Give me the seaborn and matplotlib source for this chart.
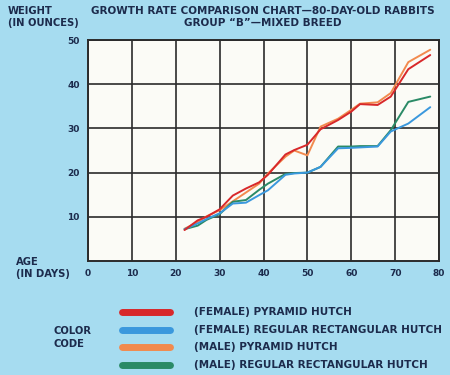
import pandas as pd
import matplotlib.pyplot as plt
import seaborn as sns
from matplotlib.lines import Line2D

# --- data ---
days = [22, 25, 27, 30, 33, 36, 39, 41, 45, 47, 50, 53, 57, 60, 62, 66, 69, 73, 78]
female_pyramid = [7.0, 9.2, 10.0, 11.7, 14.8, 16.4, 17.8, 19.5, 24.1, 25.1, 26.3, 29.8, 31.9, 33.8, 35.5, 35.3, 37.2, 43.4, 46.6]
female_rect = [7.2, 8.5, 9.5, 10.8, 13.0, 13.2, 14.9, 16.0, 19.5, 19.8, 20.0, 21.3, 25.5, 25.6, 25.7, 25.9, 29.3, 31.1, 34.8]
male_pyramid = [7.3, 8.8, 10.1, 11.5, 13.5, 15.5, 17.5, 19.8, 23.6, 25.0, 23.9, 30.4, 32.2, 34.2, 35.6, 35.9, 38.0, 45.0, 47.8]
male_rect = [7.2, 8.0, 9.3, 10.6, 13.4, 13.8, 16.1, 17.5, 19.7, 19.9, 20.0, 21.3, 25.9, 25.9, 26.0, 26.0, 29.6, 36.0, 37.2]

series_names = ["(FEMALE) PYRAMID HUTCH", "(FEMALE) REGULAR RECTANGULAR HUTCH",
                "(MALE) PYRAMID HUTCH", "(MALE) REGULAR RECTANGULAR HUTCH"]
series_values = [female_pyramid, female_rect, male_pyramid, male_rect]
colors = ["#d8282a", "#3a98dd", "#f28a4e", "#2a8a66"]

x_ticks = [0, 10, 20, 30, 40, 50, 60, 70, 80]
y_ticks = [10, 20, 30, 40, 50]

# --- style ---
bg = "#a6dcf0"
ink = "#1c2b4c"
sns.set_style("white")
plt.rcParams['font.family'] = ['DejaVu Sans']
plt.rcParams['font.weight'] = 'bold'

rows = []
for name, vals in zip(series_names, series_values):
    for d, v in zip(days, vals):
        rows.append({"day": d, "weight": v, "series": name})
df = pd.DataFrame(rows)

fig = plt.figure(figsize=(4.5, 3.75), dpi=100, facecolor=bg)
ax = fig.add_axes([0.1956, 0.304, 0.78, 0.5893])
ax.set_facecolor("#fbfbf6")

# male lines first so the female lines sit on top like in the original
order = [2, 3, 1, 0]
for i in order:
    sub = df[df["series"] == series_names[i]]
    sns.lineplot(data=sub, x="day", y="weight", color=colors[i], linewidth=1.4, ax=ax, legend=False)

ax.set_xlim(0, 80)
ax.set_ylim(0, 50)
ax.set_xticks(x_ticks)
ax.set_yticks(y_ticks)
ax.grid(True, color="#2b2b2b", linewidth=1.2)
ax.set_axisbelow(True)
for s in ax.spines.values():
    s.set_color("#2b2b2b")
    s.set_linewidth(1.4)
ax.tick_params(length=0, labelsize=6.5, labelcolor=ink, pad=6)
for lab in ax.get_xticklabels() + ax.get_yticklabels():
    lab.set_fontweight('bold')
ax.set_xlabel("")
ax.set_ylabel("")

# titles
fig.text(0.585, 0.972, "GROWTH RATE COMPARISON CHART\u201480-DAY-OLD RABBITS",
         ha="center", va="center", fontsize=7.5, color=ink, fontweight="bold")
fig.text(0.585, 0.94, "GROUP \u201cB\u201d\u2014MIXED BREED",
         ha="center", va="center", fontsize=7.5, color=ink, fontweight="bold")
fig.text(0.018, 0.972, "WEIGHT", ha="left", va="center", fontsize=7.2, color=ink, fontweight="bold")
fig.text(0.018, 0.94, "(IN OUNCES)", ha="left", va="center", fontsize=7.2, color=ink, fontweight="bold")
fig.text(0.035, 0.302, "AGE", ha="left", va="center", fontsize=7.2, color=ink, fontweight="bold")
fig.text(0.035, 0.27, "(IN DAYS)", ha="left", va="center", fontsize=7.2, color=ink, fontweight="bold")

# colour code key
fig.text(0.12, 0.118, "COLOR", ha="left", va="center", fontsize=7.2, color=ink, fontweight="bold")
fig.text(0.12, 0.083, "CODE", ha="left", va="center", fontsize=7.2, color=ink, fontweight="bold")
key_y = [0.167, 0.121, 0.074, 0.028]
for c, name, y in zip(colors, series_names, key_y):
    fig.add_artist(Line2D([0.272, 0.378], [y, y], color=c, linewidth=5,
                          solid_capstyle="round", transform=fig.transFigure))
    fig.text(0.43, y, name, ha="left", va="center", fontsize=7.5, color=ink, fontweight="bold")

fig.savefig("out.png", dpi=100, facecolor=bg)
